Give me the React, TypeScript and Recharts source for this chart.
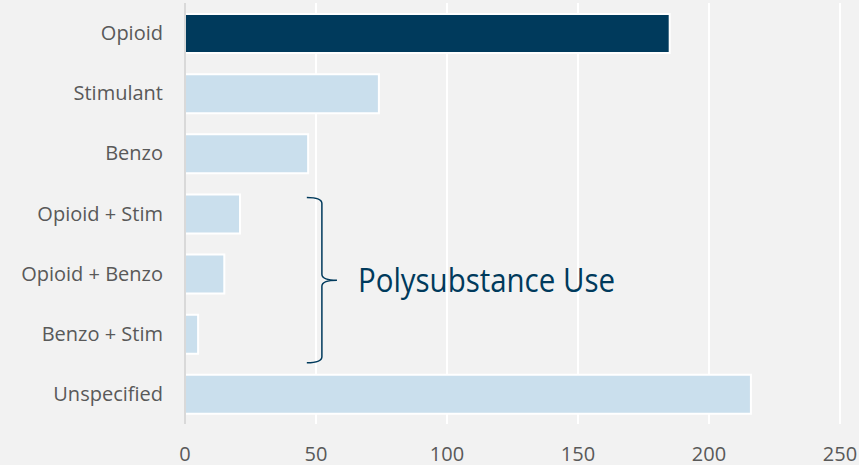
import React from "react";
import {
  Bar,
  BarChart,
  CartesianGrid,
  Cell,
  ReferenceArea,
  XAxis,
  YAxis,
} from "recharts";

const categories = [
  "Opioid",
  "Stimulant",
  "Benzo",
  "Opioid + Stim",
  "Opioid + Benzo",
  "Benzo + Stim",
  "Unspecified",
];
const counts = [185, 74, 47, 21, 15, 5, 216];
const xTicks = [0, 50, 100, 150, 200, 250];

const highlight = "Opioid";
const annotationLabel = "Polysubstance Use";
const bracketFrom = "Opioid + Stim";
const bracketTo = "Benzo + Stim";

const data = categories.map((name, i) => ({ name, value: counts[i] }));

const DARK = "#003a5c";
const LIGHT = "#cadfed";
const FONT = "'Open Sans', sans-serif";

function Brace(props: any) {
  const { x, y, width, height } = props;
  const top = y + 14;
  const bottom = y + height - 1;
  const mid = (top + bottom) / 2;
  const x0 = x;
  const x1 = x + width / 2;
  const tip = x + width;
  const d = `M${x0},${top} Q${x1},${top} ${x1},${top + 6} L${x1},${mid - 6} Q${x1},${mid} ${tip},${mid} Q${x1},${mid} ${x1},${mid + 6} L${x1},${bottom - 6} Q${x1},${bottom} ${x0},${bottom}`;
  return (
    <g>
      <path d={d} fill="none" stroke={DARK} strokeWidth={1.5} />
      <text
        x={tip + 21}
        y={mid + 12}
        fill={DARK}
        fontSize={33}
        fontFamily={FONT}
        textLength={257}
        lengthAdjust="spacingAndGlyphs"
      >
        {annotationLabel}
      </text>
    </g>
  );
}

export default function App() {
  return (
    <div style={{ position: "absolute", left: 0, top: 0, width: 859, height: 465, background: "#f2f2f2" }}>
      <BarChart
        width={859}
        height={465}
        data={data}
        layout="vertical"
        margin={{ top: 3, right: 19, bottom: 0, left: 0 }}
        barSize={39}
      >
        <CartesianGrid horizontal={false} stroke="#ffffff" strokeWidth={2} />
        <XAxis
          type="number"
          domain={[0, 250]}
          ticks={xTicks}
          axisLine={false}
          tickLine={false}
          tickSize={0}
          tickMargin={23}
          height={41}
          tick={{ fill: "#595959", fontSize: 20, fontFamily: FONT }}
        />
        <YAxis
          type="category"
          dataKey="name"
          width={185}
          axisLine={{ stroke: "#d9d9d9", strokeWidth: 2 }}
          tickLine={false}
          tickSize={0}
          tickMargin={22}
          tick={{ fill: "#595959", fontSize: 20, fontFamily: FONT }}
        />
        <Bar dataKey="value" stroke="#ffffff" strokeWidth={2} isAnimationActive={false}>
          {data.map((d) => (
            <Cell key={d.name} fill={d.name === highlight ? DARK : LIGHT} />
          ))}
        </Bar>
        <ReferenceArea
          x1={46.5}
          x2={58}
          y1={bracketFrom}
          y2={bracketTo}
          ifOverflow="visible"
          shape={(p: any) => <Brace {...p} />}
        />
      </BarChart>
    </div>
  );
}
